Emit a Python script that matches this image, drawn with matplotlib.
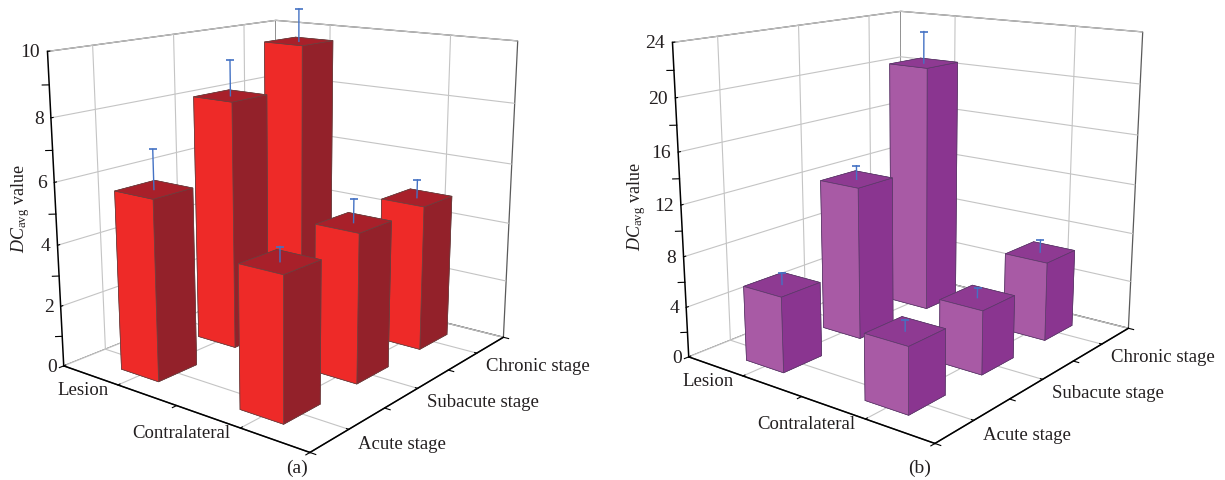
import matplotlib
matplotlib.use("Agg")
import matplotlib.pyplot as plt
from mpl_toolkits.mplot3d import proj3d

plt.rcParams['font.family'] = ['Liberation Serif', 'DejaVu Serif']
plt.rcParams['mathtext.fontset'] = 'custom'
plt.rcParams['mathtext.rm'] = 'Liberation Serif'
plt.rcParams['mathtext.it'] = 'Liberation Serif:italic'
plt.rcParams['grid.color'] = '#c4c4c4'
plt.rcParams['grid.linewidth'] = 0.8

sides = ['Lesion', 'Contralateral']
stages = ['Acute stage', 'Subacute stage', 'Chronic stage']
x_minor = [-0.5, 0.5, 1.5]
y_minor = [-0.5, 0.5, 1.5, 2.5]

dc_a = [[5.8, 8.2, 9.6], [4.45, 4.8, 4.85]]
err_a = [[1.25, 1.15, 1.1], [0.45, 0.75, 0.6]]
zticks_a = [0, 2, 4, 6, 8, 10]
zminor_a = [1, 3, 5, 7, 9]

dc_b = [[5.9, 12.3, 20.5], [5.0, 5.0, 6.4]]
err_b = [[0.9, 1.1, 2.6], [0.85, 0.8, 1.0]]
zticks_b = [0, 4, 8, 12, 16, 20, 24]
zminor_b = [2, 6, 10, 14, 18, 22]

TXT = '#231f20'
W, H = 1225, 481
fig = plt.figure(figsize=(W / 100, H / 100), dpi=100, facecolor='white')


def panel(cx, cy, vals, errs, zticks, zminor, colors, caption, cap_x, lab_x, lab_y):
    S = 542
    ax = fig.add_axes([(cx - S / 2) / W, 1 - (cy + S / 2) / H, S / W, S / H],
                      projection='3d', computed_zorder=False)
    ax.patch.set_alpha(0)
    ax.set_proj_type('persp', focal_length=0.41)
    ax.view_init(elev=14.8, azim=-52)
    ax.set_box_aspect((304, 336, 310))
    ax.set_xlim(-0.5, 1.5, view_margin=0)
    ax.set_ylim(-0.5, 2.5, view_margin=0)
    ax.set_zlim(0, zticks[-1], view_margin=0)
    ax.set_xticks([0, 1])
    ax.tick_params(axis='x', labelbottom=False)
    M = ax.get_proj()
    for i, name in enumerate(sides):
        px, py, _ = proj3d.proj_transform(i, -0.5, 0, M)
        ax.annotate(name, xy=(px, py), xycoords='data', xytext=(-7, -3.5),
                    textcoords='offset points', ha='right', va='center',
                    fontsize=13.5, color=TXT, zorder=70)
    ax.set_yticks([0, 1, 2], stages, ha='left', va='center', fontsize=13.5, color=TXT)
    ax.set_zticks(zticks, [str(t) for t in zticks], ha='right', va='center', fontsize=14, color=TXT)
    ax.tick_params(axis='y', pad=-1)
    ax.tick_params(axis='z', pad=-5)
    ax.zaxis.set_ticks_position('lower')
    for axis in (ax.xaxis, ax.yaxis, ax.zaxis):
        axis.set_pane_color((1, 1, 1, 1))
        axis.pane.set_edgecolor('#5a5a5a')
        axis.pane.set_linewidth(0.9)
        axis.line.set_color('black')
        axis.line.set_linewidth(1.1)
        axis._axinfo['tick']['inward_factor'] = 0.0
        axis._axinfo['tick']['outward_factor'] = 0.1

    for m in x_minor:
        ax.plot([m, m], [-0.5, -0.55], [0, 0], color='black', lw=0.8, zorder=5)
    for m in y_minor:
        ax.plot([1.5, 1.54], [m, m], [0, 0], color='black', lw=0.8, zorder=5)
    for m in zminor:
        ax.plot([-0.5, -0.53], [-0.5, -0.54], [m, m], color='black', lw=0.8, zorder=5)

    dx, dy = 0.33, 0.48
    order = [(0, 2), (1, 2), (0, 1), (1, 1), (0, 0), (1, 0)]
    for k, (i, j) in enumerate(order):
        v = vals[i][j]
        e = errs[i][j]
        bar = ax.bar3d(i - dx / 2, j - dy / 2, 0, dx, dy, v, shade=False,
                       color=[colors[2], colors[2], colors[0], colors[1], colors[1], colors[1]],
                       edgecolor=colors[3], linewidth=0.5)
        bar.set_zorder(10 + 2 * k)
        ax.plot([i, i], [j, j], [v, v + e], color='#4472c4', lw=1.0, zorder=60)
        ax.plot([i], [j], [v + e], color='#4472c4', marker='_', ms=6, mew=1.2, zorder=60)

    fig.text(cap_x / W, 1 - 468 / H, caption, ha='center', va='center', fontsize=14, color=TXT)
    fig.text(lab_x / W, 1 - lab_y / H, r'$\mathit{DC}_{\mathrm{avg}}$ value', rotation=90,
             ha='center', va='center', fontsize=13, color=TXT)
    return ax


panel(283, 212, dc_a, err_a, zticks_a, zminor_a,
      ['#ee2a28', '#93212a', '#a8202a', '#6b4040'], '(a)', 297, 21, 209)
panel(908, 203, dc_b, err_b, zticks_b, zminor_b,
      ['#a85aa5', '#8a3590', '#8e3a92', '#5c3a6a'], '(b)', 920, 637, 207)

fig.savefig('out.png', dpi=100)
